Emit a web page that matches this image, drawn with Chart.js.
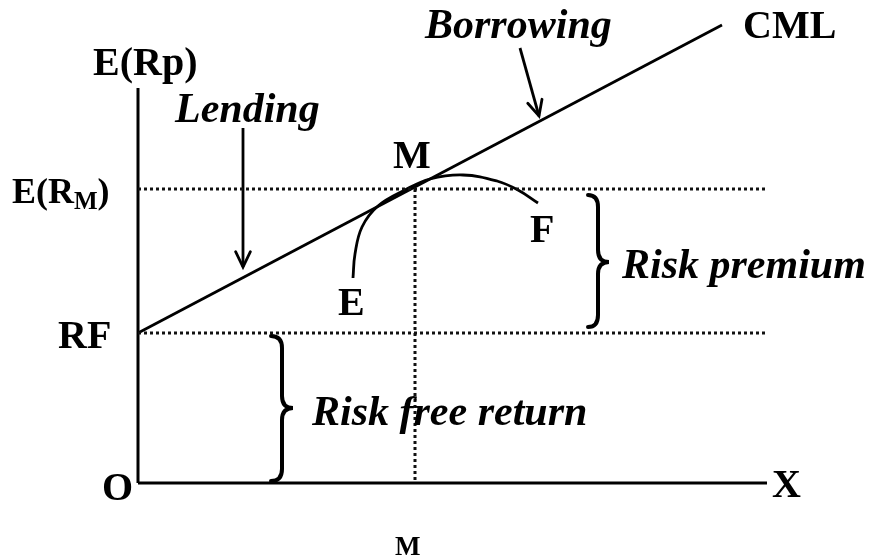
<!DOCTYPE html>
<html lang="en">
<head>
    <meta charset="UTF-8">
    <title>Capital Market Line</title>
    <script src="https://cdn.jsdelivr.net/npm/chart.js"></script>
    <style>
        html, body {
            margin: 0;
            padding: 0;
            background: #ffffff;
        }
        #wrap {
            width: 872px;
            height: 559px;
        }
    </style>
</head>
<body>
    <div id="wrap"><canvas id="cmlChart"></canvas></div>

    <script>
        // chart units: risk on x, expected return on y
        const riskFree = 15.0;
        const marketReturn = 29.4;
        const marketRisk = 27.7;
        const guideEnd = 62.7;

        const axisX = [0, 62.9];
        const axisY = [0, 39.5];

        const cmlRisk = [0, 58.4];
        const cmlReturn = [15.0, 45.8];

        const frontierRisk = [21.5, 21.7, 22.4, 24.0, 26.7, 29.2, 32.5, 35.9, 38.0, 40.0];
        const frontierReturn = [20.5, 22.9, 25.6, 27.7, 29.3, 30.4, 30.8, 30.2, 29.3, 28.0];

        const lendingArrowX = [10.5, 10.5];
        const lendingArrowY = [35.5, 21.6];
        const borrowingArrowX = [38.2, 40.1];
        const borrowingArrowY = [43.5, 36.7];

        const toPoints = (xs, ys) => xs.map((x, i) => ({ x: x, y: ys[i] }));

        const boldFont = 'bold 40px "Liberation Serif", "Times New Roman", serif';
        const italicFont = 'italic bold 42px "Liberation Serif", "Times New Roman", serif';

        // text labels (left, baseline) in chart units
        const labels = [
            { text: 'E(Rp)', x: -4.5, y: 40.8, font: boldFont },
            { text: 'Lending', x: 3.7, y: 36.1, font: italicFont },
            { text: 'Borrowing', x: 28.7, y: 44.5, font: italicFont },
            { text: 'CML', x: 60.5, y: 44.5, font: boldFont },
            { text: 'M', x: 25.5, y: 31.5, font: boldFont },
            { text: 'F', x: 39.2, y: 24.1, font: boldFont },
            { text: 'E', x: 20.0, y: 16.8, font: boldFont },
            { text: 'RF', x: -8.0, y: 13.5, font: boldFont },
            { text: 'Risk premium', x: 48.4, y: 20.5, font: italicFont },
            { text: 'Risk free return', x: 17.4, y: 5.8, font: italicFont },
            { text: 'O', x: -3.6, y: -1.7, font: boldFont },
            { text: 'X', x: 63.4, y: -1.4, font: boldFont },
            { text: 'M', x: 25.7, y: -7.2, font: 'bold 27px "Liberation Serif", serif' }
        ];

        const braces = [
            { x0: 45.0, xv: 46.0, xt: 47.1, top: 28.8, bottom: 15.6, mid: 22.1 },
            { x0: 13.3, xv: 14.4, xt: 15.5, top: 14.7, bottom: 0.2, mid: 7.5 }
        ];

        const dotted = { borderDash: [3, 3], borderWidth: 3, borderColor: '#111' };

        function line(points, extra) {
            return Object.assign({
                data: points,
                showLine: true,
                pointRadius: 0,
                borderColor: '#000',
                borderWidth: 3,
                fill: false
            }, extra || {});
        }

        const diagramPlugin = {
            id: 'diagram',
            afterDatasetsDraw(chart) {
                const ctx = chart.ctx;
                const xs = chart.scales.x;
                const ys = chart.scales.y;
                const px = v => xs.getPixelForValue(v);
                const py = v => ys.getPixelForValue(v);

                ctx.save();
                ctx.strokeStyle = '#000';
                ctx.lineCap = 'round';

                // arrow heads
                chart.data.datasets.forEach((ds, i) => {
                    if (!ds.arrow) return;
                    const pts = chart.getDatasetMeta(i).data;
                    const a = pts[pts.length - 2], b = pts[pts.length - 1];
                    const ang = Math.atan2(b.y - a.y, b.x - a.x);
                    const len = 17, spread = 0.45;
                    ctx.lineWidth = 2.8;
                    ctx.beginPath();
                    ctx.moveTo(b.x - len * Math.cos(ang - spread), b.y - len * Math.sin(ang - spread));
                    ctx.lineTo(b.x, b.y);
                    ctx.lineTo(b.x - len * Math.cos(ang + spread), b.y - len * Math.sin(ang + spread));
                    ctx.stroke();
                });

                // curly braces
                ctx.lineWidth = 4;
                braces.forEach(b => {
                    const x0 = px(b.x0), xv = px(b.xv), xt = px(b.xt);
                    const yt = py(b.top), yb = py(b.bottom), ym = py(b.mid);
                    const r = 12;
                    ctx.beginPath();
                    ctx.moveTo(x0, yt);
                    ctx.quadraticCurveTo(xv, yt, xv, yt + r);
                    ctx.lineTo(xv, ym - r);
                    ctx.quadraticCurveTo(xv, ym, xt, ym);
                    ctx.quadraticCurveTo(xv, ym, xv, ym + r);
                    ctx.lineTo(xv, yb - r);
                    ctx.quadraticCurveTo(xv, yb, x0, yb);
                    ctx.stroke();
                });

                // labels
                ctx.fillStyle = '#000';
                ctx.textBaseline = 'alphabetic';
                ctx.textAlign = 'left';
                labels.forEach(l => {
                    ctx.font = l.font;
                    ctx.fillText(l.text, px(l.x), py(l.y));
                });

                // E(R_M) with subscript
                let x = px(-12.6);
                const y = py(28.0);
                ctx.font = 'bold 36px "Liberation Serif", serif';
                ctx.fillText('E(R', x, y);
                x += ctx.measureText('E(R').width;
                ctx.font = 'bold 25px "Liberation Serif", serif';
                ctx.fillText('M', x, y + 6);
                x += ctx.measureText('M').width;
                ctx.font = 'bold 36px "Liberation Serif", serif';
                ctx.fillText(')', x, y);

                ctx.restore();
            }
        };

        new Chart(document.getElementById('cmlChart'), {
            type: 'scatter',
            data: {
                datasets: [
                    line(toPoints([0, guideEnd], [marketReturn, marketReturn]), dotted),
                    line(toPoints([0, guideEnd], [riskFree, riskFree]), dotted),
                    line(toPoints([marketRisk, marketRisk], [marketReturn, 0]), dotted),
                    line(toPoints([0, 0], axisY)),
                    line(toPoints(axisX, [0, 0])),
                    line(toPoints(cmlRisk, cmlReturn), { borderWidth: 2.8 }),
                    line(toPoints(frontierRisk, frontierReturn), { tension: 0.4, borderWidth: 2.8 }),
                    line(toPoints(lendingArrowX, lendingArrowY), { borderWidth: 2.8, arrow: true }),
                    line(toPoints(borrowingArrowX, borrowingArrowY), { borderWidth: 2.8, arrow: true })
                ]
            },
            options: {
                responsive: true,
                maintainAspectRatio: false,
                animation: false,
                layout: { padding: 0 },
                plugins: {
                    legend: { display: false },
                    tooltip: { enabled: false }
                },
                scales: {
                    x: { type: 'linear', min: -13.8, max: 73.4, display: false },
                    y: { type: 'linear', min: -7.6, max: 48.3, display: false }
                }
            },
            plugins: [diagramPlugin]
        });
    </script>
</body>
</html>
